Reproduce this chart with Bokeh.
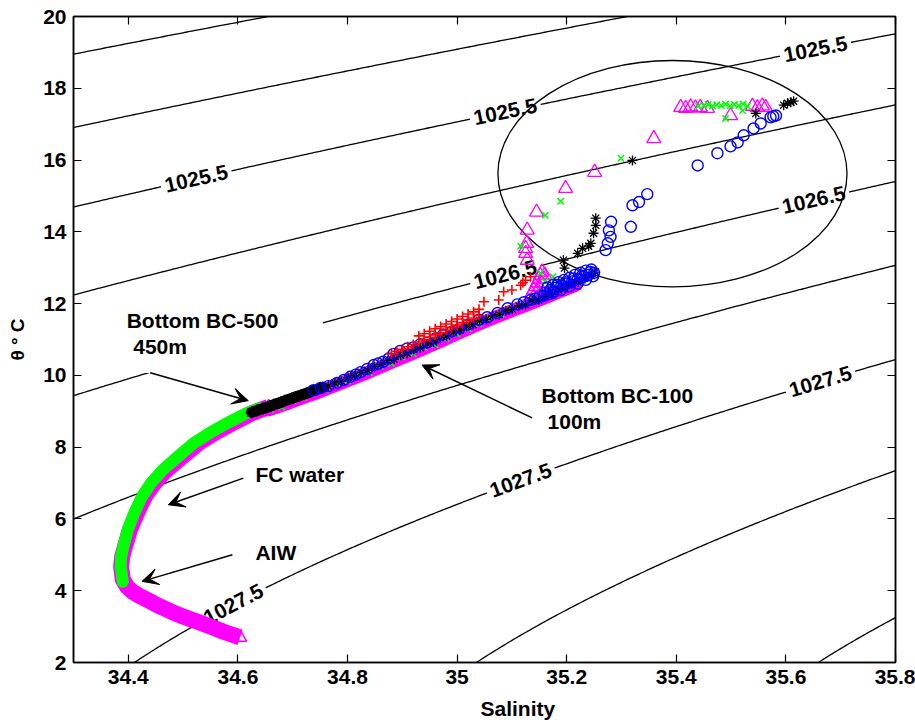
import numpy as np
from bokeh.plotting import figure
from bokeh.models import (LinearAxis, FixedTicker, CustomJSTickFormatter, Arrow,
                          VeeHead, Range1d, Title)
from bokeh.embed import file_html
from bokeh.resources import INLINE
from bokeh.core.properties import value

FONT = "Liberation Sans"

# ---------------- axes ----------------
x_ticks = [34.4, 34.6, 34.8, 35.0, 35.2, 35.4, 35.6, 35.8]
y_ticks = [2, 4, 6, 8, 10, 12, 14, 16, 18, 20]

# ---------------- isopycnals ----------------
sigma_levels = [1024.5, 1025.0, 1025.5, 1026.0, 1026.5, 1027.0, 1027.5, 1028.0, 1028.5]
label_levels = [1025.5, 1025.5, 1025.5, 1026.5, 1026.5, 1027.5, 1027.5, 1027.5]
label_S = [34.524, 35.088, 35.654, 35.088, 35.651, 35.116, 35.663, 34.592]

# ---------------- ellipse (upper-layer cluster) ----------------
ell_S, ell_T, ell_w, ell_h = 35.393, 15.62, 0.637, 6.31

# ---------------- magenta triangles ----------------
mag_deep_S = [34.604, 34.575, 34.550, 34.525, 34.500, 34.478, 34.458, 34.440, 34.422, 34.408,
              34.398, 34.390, 34.387, 34.389, 34.394, 34.403, 34.416, 34.430, 34.448, 34.470,
              34.498, 34.529, 34.558, 34.594, 34.626, 34.656]
mag_deep_T = [2.70, 2.85, 3.00, 3.14, 3.28, 3.42, 3.56, 3.70, 3.84, 3.97,
              4.11, 4.31, 4.67, 4.95, 5.23, 5.70, 6.17, 6.62, 7.01, 7.37,
              7.73, 8.12, 8.40, 8.70, 8.95, 9.12]
mag_band_S = [34.656, 34.680, 34.710, 34.740, 34.770, 34.800, 34.830, 34.860, 34.890, 34.920,
              34.950, 34.980, 35.010, 35.040, 35.070, 35.100, 35.130, 35.160, 35.190, 35.215]
mag_band_T = [9.04, 9.16, 9.33, 9.49, 9.67, 9.85, 10.03, 10.23, 10.43, 10.62,
              10.82, 11.02, 11.23, 11.43, 11.62, 11.80, 11.98, 12.16, 12.35, 12.50]
mag_S = [35.136, 35.140, 35.143, 35.146, 35.149, 35.152, 35.155, 35.145, 35.150, 35.155,
         35.158, 35.160,
         35.128, 35.125, 35.125, 35.127, 35.128, 35.145, 35.198, 35.251, 35.359,
         35.408, 35.417, 35.426, 35.435, 35.444, 35.457, 35.539, 35.548, 35.557, 35.563, 35.499]
mag_T = [12.28, 12.38, 12.48, 12.58, 12.68, 12.78, 12.88, 12.33, 12.45, 12.57,
         12.70, 12.80,
         13.21, 13.40, 13.54, 13.68, 14.05, 14.55, 15.21, 15.66, 16.60,
         17.47, 17.44, 17.48, 17.45, 17.47, 17.44, 17.50, 17.46, 17.51, 17.47, 17.24]

# ---------------- green crosses ----------------
grn_deep_S = [34.390, 34.386, 34.387, 34.391, 34.399, 34.411, 34.425, 34.442, 34.463, 34.490,
              34.520, 34.549, 34.584, 34.616, 34.640]
grn_deep_T = [4.25, 4.67, 4.95, 5.23, 5.70, 6.17, 6.62, 7.01, 7.37, 7.73,
              8.12, 8.40, 8.70, 8.95, 9.08]
grn_S = [34.660, 34.680, 34.700, 34.720, 34.740, 34.760, 34.780, 34.800, 34.820, 34.840,
         34.860, 34.880, 34.900, 34.920, 34.940, 34.960, 34.980, 35.000, 35.020, 35.040,
         35.060, 35.080, 35.100, 35.120, 35.140, 35.152, 35.160, 35.175, 35.185, 35.170,
         35.116, 35.161, 35.189, 35.299, 35.490, 35.521, 35.530,
         35.440, 35.450, 35.458, 35.466, 35.474, 35.482, 35.490, 35.498, 35.506, 35.514, 35.522]
grn_T = [9.05, 9.12, 9.30, 9.38, 9.55, 9.60, 9.78, 9.85, 10.03, 10.08,
         10.26, 10.33, 10.52, 10.60, 10.78, 10.86, 11.03, 11.15, 11.30, 11.44,
         11.60, 11.70, 11.85, 11.96, 12.10, 12.85, 12.62, 12.75, 12.58, 12.50,
         13.60, 14.46, 14.85, 16.05, 17.16, 17.38, 17.50,
         17.50, 17.52, 17.55, 17.50, 17.54, 17.52, 17.56, 17.51, 17.55, 17.52, 17.56]

# ---------------- black asterisks ----------------
blk_deep_S = [34.625, 34.635, 34.645, 34.655, 34.665, 34.675, 34.685, 34.695, 34.705, 34.715,
              34.725, 34.735, 34.745, 34.755]
blk_deep_T = [8.97, 9.02, 9.07, 9.12, 9.18, 9.23, 9.29, 9.34, 9.40, 9.45,
              9.50, 9.56, 9.61, 9.66]
blk_S = [34.765, 34.777, 34.789, 34.801, 34.813, 34.825, 34.837, 34.849, 34.861, 34.873,
         34.885, 34.897, 34.909, 34.921, 34.933, 34.945, 34.957, 34.969, 34.981, 34.993,
         35.005, 35.017, 35.029, 35.041, 35.053, 35.065, 35.077, 35.089, 35.101, 35.113,
         35.125, 35.137, 35.149, 35.161, 35.173, 35.185, 35.197, 35.209, 35.221, 35.233,
         35.245, 35.252,
         35.194, 35.196, 35.220, 35.229, 35.240, 35.244, 35.249, 35.253, 35.253,
         35.320, 35.545, 35.596, 35.603, 35.609, 35.614]
blk_T = [9.70, 9.79, 9.84, 9.94, 9.99, 10.09, 10.14, 10.25, 10.30, 10.41,
         10.45, 10.56, 10.61, 10.72, 10.77, 10.88, 10.93, 11.05, 11.10, 11.21,
         11.26, 11.37, 11.42, 11.53, 11.56, 11.66, 11.70, 11.80, 11.84, 11.94,
         11.97, 12.08, 12.10, 12.21, 12.25, 12.38, 12.42, 12.54, 12.60, 12.70,
         12.78, 12.88,
         13.21, 12.99, 13.40, 13.54, 13.60, 13.68, 13.96, 14.18, 14.38,
         15.99, 17.30, 17.53, 17.58, 17.61, 17.64]

# ---------------- blue circles ----------------
blu_S = [34.738, 34.751, 34.765, 34.781, 34.793, 34.805, 34.815, 34.824, 34.836, 34.848,
         34.856, 34.865, 34.875, 34.884, 34.896, 34.909, 34.920, 34.933, 34.946, 34.960,
         34.975, 34.990, 35.005, 35.020, 35.040, 35.055, 35.074, 35.092, 35.110, 35.122,
         35.134, 35.142, 35.150, 35.158, 35.165, 35.175,
         35.160, 35.165, 35.170, 35.175, 35.180, 35.185, 35.190, 35.195, 35.200, 35.205,
         35.210, 35.215, 35.220, 35.225, 35.230, 35.235, 35.240, 35.245, 35.250, 35.175,
         35.190, 35.205, 35.220, 35.235, 35.248, 35.183, 35.198, 35.213, 35.228, 35.243,
         35.271, 35.275, 35.280, 35.277, 35.281, 35.317, 35.320, 35.332, 35.347, 35.439,
         35.475, 35.499, 35.512, 35.523, 35.541, 35.554, 35.572, 35.582, 35.577]
blu_T = [9.59, 9.65, 9.70, 9.79, 9.87, 9.96, 10.02, 10.09, 10.18, 10.29,
         10.33, 10.38, 10.47, 10.60, 10.68, 10.75, 10.78, 10.87, 10.92, 11.03,
         11.14, 11.22, 11.32, 11.42, 11.55, 11.62, 11.74, 11.87, 11.98, 12.04,
         12.10, 12.14, 12.18, 12.22, 12.26, 12.32,
         12.30, 12.45, 12.38, 12.52, 12.44, 12.60, 12.50, 12.66, 12.56, 12.72,
         12.62, 12.80, 12.68, 12.86, 12.74, 12.92, 12.80, 12.95, 12.86, 12.30,
         12.38, 12.48, 12.56, 12.66, 12.76, 12.52, 12.60, 12.70, 12.78, 12.88,
         13.49, 13.68, 13.86, 14.04, 14.28, 14.14, 14.74, 14.83, 15.05, 15.85,
         16.19, 16.38, 16.49, 16.69, 16.88, 17.02, 17.19, 17.24, 17.22]

# ---------------- red plus ----------------
red_S = [34.880, 34.890, 34.900, 34.910, 34.920, 34.930, 34.940, 34.950, 34.960, 34.970,
         34.980, 34.990, 35.000, 35.010, 35.020, 35.030, 35.040,
         34.930, 34.940, 34.950, 34.960, 34.970, 34.980, 34.990, 35.000, 35.010, 35.020,
         35.030, 35.040,
         35.049, 35.076, 35.085, 35.100, 35.116, 35.120, 35.125, 35.134]
red_T = [10.60, 10.67, 10.73, 10.80, 10.86, 10.93, 10.99, 11.06, 11.13, 11.19,
         11.26, 11.33, 11.40, 11.47, 11.54, 11.60, 11.67,
         11.10, 11.16, 11.23, 11.30, 11.36, 11.43, 11.50, 11.57, 11.64, 11.71,
         11.77, 11.84,
         12.05, 12.10, 12.33, 12.38, 12.51, 12.58, 12.65, 12.75]

# ---------------- annotations ----------------
notes = [("Bottom BC-500", 34.397, 11.54), ("450m", 34.409, 10.80),
         ("FC water", 34.632, 7.23), ("AIW", 34.632, 5.06),
         ("Bottom BC-100", 35.154, 9.44), ("100m", 35.165, 8.71)]
arrows = [((34.440, 10.075), (34.619, 9.296)),
          ((35.137, 8.815), (34.936, 10.289)),
          ((34.610, 7.138), (34.473, 6.395)),
          ((34.590, 5.004), (34.425, 4.261))]
box_bc500 = dict(left=34.389, right=34.755, top=12.21, bottom=10.07)

MAG, GRN, BLU, RED, BLK = "#ff00ff", "#00ff00", "#0000ff", "#ff0000", "#000000"


def rho(S, T):
    """UNESCO 1983 seawater density at p=0 (sigma-theta when T is theta)."""
    rw = (999.842594 + 6.793952e-2 * T - 9.095290e-3 * T**2 + 1.001685e-4 * T**3
          - 1.120083e-6 * T**4 + 6.536332e-9 * T**5)
    A = 0.824493 - 4.0899e-3 * T + 7.6438e-5 * T**2 - 8.2467e-7 * T**3 + 5.3875e-9 * T**4
    B = -5.72466e-3 + 1.0227e-4 * T - 1.6546e-6 * T**2
    return rw + A * S + B * S**1.5 + 4.8314e-4 * S**2


W, H = 915, 727
ML, MR, MT, MB = 73, 20, 16, 65
p = figure(width=W, height=H, x_range=Range1d(34.3, 35.8), y_range=Range1d(2, 20),
           output_backend="svg", toolbar_location=None,
           min_border_left=ML, min_border_right=MR, min_border_top=MT, min_border_bottom=MB)
p.grid.visible = False
p.outline_line_color = "black"
p.outline_line_width = 1.5
p.background_fill_color = "white"
p.border_fill_color = "white"

fmt = CustomJSTickFormatter(code="return String(Math.round(tick*10)/10);")
for ax, ticks in ((p.xaxis[0], x_ticks), (p.yaxis[0], y_ticks)):
    ax.ticker = FixedTicker(ticks=ticks)
    ax.formatter = fmt
    ax.major_tick_in = 8
    ax.major_tick_out = 0
    ax.minor_tick_line_color = None
    ax.axis_line_width = 1.5
    ax.major_tick_line_width = 1.2
    ax.major_label_text_font = FONT
    ax.major_label_text_font_style = "bold"
    ax.major_label_text_font_size = "21px"
    ax.major_label_text_color = "black"
    ax.major_label_standoff = 7
p.yaxis.axis_label = "\u03b8 \u00b0 C"
p.yaxis.axis_label_text_font = FONT
p.yaxis.axis_label_text_font_style = "bold"
p.yaxis.axis_label_text_font_size = "19px"
p.yaxis.axis_label_text_color = "black"
p.yaxis.axis_label_standoff = 12

for side, ticks in (("above", x_ticks), ("right", y_ticks)):
    ax = LinearAxis(ticker=FixedTicker(ticks=ticks),
                    formatter=CustomJSTickFormatter(code="return '';"),
                    major_tick_in=8, major_tick_out=0, minor_tick_line_color=None,
                    axis_line_width=1.5, major_tick_line_width=1.2,
                    major_label_text_font_size="0px", major_label_standoff=0)
    p.add_layout(ax, side)

p.add_layout(Title(text="Salinity", align="left", offset=407, text_font=FONT,
                   text_font_style="bold", text_font_size="21px", text_color="black",
                   standoff=16), "below")

# isopycnal contours
Sg = np.linspace(34.3, 35.8, 301)
Tg = np.linspace(2.0, 20.0, 361)
SS, TT = np.meshgrid(Sg, Tg)
p.contour(Sg, Tg, rho(SS, TT), levels=sigma_levels, line_color="black", line_width=1.3)

# contour labels placed on their isopycnal, rotated along it
px_per_S = (W - ML - MR) / 1.5
py_per_T = (H - MT - MB) / 18.0
lab_T, lab_ang, lab_txt = [], [], []
for lev, s in zip(label_levels, label_S):
    lo, hi = 0.0, 30.0
    for _ in range(60):
        mid = 0.5 * (lo + hi)
        if rho(s, mid) > lev:
            lo = mid
        else:
            hi = mid
    t = 0.5 * (lo + hi)
    dS = (rho(s + 1e-4, t) - rho(s - 1e-4, t)) / 2e-4
    dT = (rho(s, t + 1e-4) - rho(s, t - 1e-4)) / 2e-4
    slope = -dS / dT
    lab_T.append(t)
    lab_ang.append(np.arctan(slope * py_per_T / px_per_S))
    lab_txt.append(f"{lev:.1f}")
p.text(x=label_S, y=lab_T, text=lab_txt, angle=lab_ang, text_align="center",
       text_baseline="middle", text_font=value(FONT), text_font_style="bold",
       text_font_size="21px", text_color="black", background_fill_color="white",
       padding=4)

# white box behind the BC-500 note
p.quad(left=[box_bc500["left"]], right=[box_bc500["right"]], top=[box_bc500["top"]],
       bottom=[box_bc500["bottom"]], fill_color="white", line_color=None)

p.ellipse(x=[ell_S], y=[ell_T], width=[ell_w], height=[ell_h], fill_color=None,
          line_color="black", line_width=1.3)

# data: magenta
p.line(mag_deep_S, mag_deep_T, line_color=MAG, line_width=16, line_join="round", line_cap="butt")
p.scatter(mag_deep_S, mag_deep_T, marker="triangle", size=13, fill_color=None, line_color=MAG, line_width=1.5)
p.line(mag_band_S, mag_band_T, line_color=MAG, line_width=13, line_join="round", line_cap="round")
p.scatter(mag_band_S, mag_band_T, marker="triangle", size=12, fill_color=None, line_color=MAG, line_width=1.5)
p.scatter(mag_S, mag_T, marker="triangle", size=14, fill_color=None, line_color=MAG, line_width=1.3)

# green
p.line(grn_deep_S, grn_deep_T, line_color=GRN, line_width=12, line_join="round", line_cap="round")
p.scatter(grn_deep_S, grn_deep_T, marker="x", size=11, line_color=GRN, line_width=1.5)
p.scatter(grn_S, grn_T, marker="x", size=9, line_color=GRN, line_width=1.5)

# black
p.line(blk_deep_S, blk_deep_T, line_color=BLK, line_width=11, line_join="round", line_cap="round")
p.scatter(blk_deep_S, blk_deep_T, marker="asterisk", size=12, line_color=BLK, line_width=1.3)
p.scatter(blk_S, blk_T, marker="asterisk", size=10, line_color=BLK, line_width=1.3)

# blue
p.scatter(blu_S, blu_T, marker="circle", size=11, fill_color=None, line_color=BLU, line_width=1.4)

# red
p.scatter(red_S, red_T, marker="cross", size=10, line_color=RED, line_width=1.6)

# notes and arrows
p.text(x=[n[1] for n in notes], y=[n[2] for n in notes], text=[n[0] for n in notes],
       text_align="left", text_baseline="alphabetic", text_font=value(FONT),
       text_font_style="bold", text_font_size="21px", text_color="black")
for (x0, y0), (x1, y1) in arrows:
    p.add_layout(Arrow(x_start=x0, y_start=y0, x_end=x1, y_end=y1, line_width=1.5,
                       line_color="black",
                       end=VeeHead(size=16, fill_color="black", line_color="black", line_width=1)))

open("out.html", "w").write(file_html(p, INLINE))
